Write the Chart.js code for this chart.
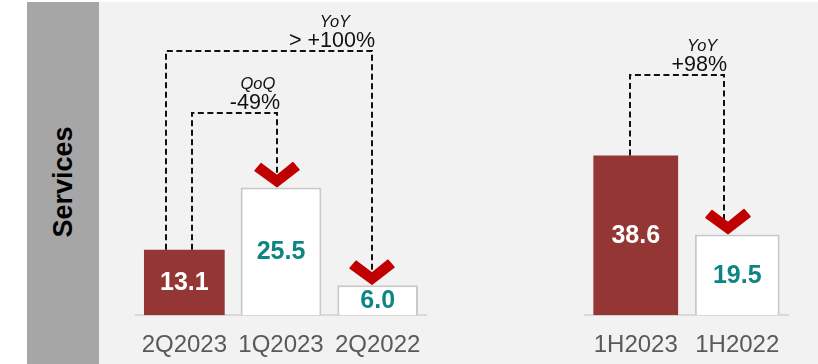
<!DOCTYPE html>
<html>
<head>
<meta charset="utf-8">
<title>Services</title>
<script src="https://cdn.jsdelivr.net/npm/chart.js@4.4.0/dist/chart.umd.min.js"></script>
<style>
    html, body { margin: 0; padding: 0; background: #ffffff; }
    #page { position: relative; width: 818px; height: 364px; overflow: hidden; }
    #panel { position: absolute; left: 99px; top: 2px; width: 719px; height: 362px; background: #f2f2f2; }
    #side { position: absolute; left: 27px; top: 2px; width: 72px; height: 362px; background: #a6a6a6; }
    #side span {
        position: absolute; left: 50%; top: 180px;
        transform: translate(-50%, -50%) rotate(-90deg);
        font: bold 27px "Liberation Sans", Arial, sans-serif; color: #000; white-space: nowrap;
    }
    #graficoTrimestre { position: absolute; left: 99px; top: 0; }
    #graficoSemestre { position: absolute; left: 540px; top: 0; }
</style>
</head>
<body>
<div id="page">
    <div id="side"><span>Services</span></div>
    <div id="panel"></div>
    <canvas id="graficoTrimestre" width="360" height="380"></canvas>
    <canvas id="graficoSemestre" width="278" height="380"></canvas>
</div>

<script>
// quarters
const trimestres = ['2Q2023', '1Q2023', '2Q2022'];
const valoresTrimestre = [13.1, 25.5, 6.0];

// half years
const semestres = ['1H2023', '1H2022'];
const valoresSemestre = [38.6, 19.5];

const FONTE = '"Liberation Sans", Arial, sans-serif';
const VERMELHO = '#943634';
const TEAL = '#0e8585';

// cores: first bar of each group is the current period
const corBarra = (valores) => valores.map((v, i) => i === 0 ? VERMELHO : '#ffffff');
const corBorda = (valores) => valores.map((v, i) => i === 0 ? VERMELHO : '#c9c9c9');
const corTexto = (valores) => valores.map((v, i) => i === 0 ? '#ffffff' : TEAL);

// red check-style arrow pointing down
function desenhaSeta(ctx, cx, ponta) {
    ctx.save();
    ctx.fillStyle = '#c00000';
    ctx.strokeStyle = '#c00000';
    ctx.lineJoin = 'round';
    ctx.lineWidth = 1.5;
    ctx.beginPath();
    ctx.moveTo(cx, ponta);
    ctx.lineTo(cx - 22, ponta - 16);
    ctx.lineTo(cx - 16, ponta - 23);
    ctx.lineTo(cx, ponta - 11);
    ctx.lineTo(cx + 16, ponta - 24);
    ctx.lineTo(cx + 22, ponta - 17);
    ctx.closePath();
    ctx.fill();
    ctx.stroke();
    ctx.restore();
}

// value labels + dashed comparison connectors
const conectores = (ligacoes) => ({
    id: 'conectores',
    afterDatasetsDraw(chart) {
        const ctx = chart.ctx;
        const meta = chart.getDatasetMeta(0);
        const escalaY = chart.scales.y;
        const valores = chart.data.datasets[0].data;
        const cores = corTexto(valores);

        ctx.save();
        ctx.font = `bold 25px ${FONTE}`;
        ctx.textAlign = 'center';
        ctx.textBaseline = 'middle';
        meta.data.forEach((barra, i) => {
            ctx.fillStyle = cores[i];
            ctx.fillText(valores[i].toFixed(1), barra.x, (barra.y + barra.base) / 2 + 1);
        });
        ctx.restore();

        ligacoes.forEach(l => {
            const a = meta.data[l.de];
            const b = meta.data[l.para];
            const x1 = Math.round(a.x + l.dxDe);
            const x2 = Math.round(b.x + l.dxPara);
            const ny = Math.round(escalaY.getPixelForValue(l.nivel));
            const ponta = b.y - 1;

            ctx.save();
            ctx.strokeStyle = '#111111';
            ctx.lineWidth = 2;
            ctx.setLineDash([6, 3.5]);
            ctx.beginPath();
            ctx.moveTo(x1, a.y);
            ctx.lineTo(x1, ny);
            ctx.lineTo(x2, ny);
            ctx.lineTo(x2, ponta - 10);
            ctx.stroke();
            ctx.restore();

            desenhaSeta(ctx, x2 + (l.dxSeta || 0), ponta);

            ctx.save();
            ctx.fillStyle = '#111111';
            ctx.textBaseline = 'alphabetic';
            ctx.font = `21.5px ${FONTE}`;
            ctx.textAlign = 'right';
            const direita = x2 + 3;
            ctx.fillText(l.valor, direita, ny - 4);
            const largura = ctx.measureText(l.valor).width;
            ctx.font = `italic 16.5px ${FONTE}`;
            ctx.textAlign = 'center';
            ctx.fillText(l.rotulo, direita - largura / 2 + 3, ny - 24);
            ctx.restore();
        });
    }
});

function criaGrafico(id, labels, valores, maximo, padding, ligacoes) {
    const ctx = document.getElementById(id).getContext('2d');
    return new Chart(ctx, {
        type: 'bar',
        data: {
            labels: labels,
            datasets: [{
                data: valores,
                backgroundColor: corBarra(valores),
                borderColor: corBorda(valores),
                borderWidth: valores.map((v, i) => i === 0 ? 0 : 2),
                barPercentage: 0.835,
                categoryPercentage: 1
            }]
        },
        options: {
            responsive: false,
            animation: false,
            layout: { padding: padding },
            plugins: {
                legend: { display: false },
                tooltip: { enabled: false }
            },
            scales: {
                x: {
                    grid: { display: false, drawTicks: false },
                    border: { display: true, color: '#d9d9d9', width: 2 },
                    ticks: {
                        color: '#595959',
                        font: { family: FONTE, size: 24 },
                        padding: 16,
                        maxRotation: 0,
                        autoSkip: false
                    }
                },
                y: { display: false, min: 0, max: maximo }
            }
        },
        plugins: [conectores(ligacoes)]
    });
}

criaGrafico('graficoTrimestre', trimestres, valoresTrimestre, 60,
    { left: 37, right: 33, top: 15, bottom: 4 },
    [
        { de: 0, dxDe: -18.5, para: 2, dxPara: -5.5, nivel: 52.8, rotulo: 'YoY', valor: '> +100%' },
        { de: 0, dxDe: 7.5, para: 1, dxPara: -4, nivel: 40.4, rotulo: 'QoQ', valor: '-49%' }
    ]);

criaGrafico('graficoSemestre', semestres, valoresSemestre, 72.6,
    { left: 45, right: 30, top: 15, bottom: 4 },
    [
        { de: 0, dxDe: -5.5, para: 1, dxPara: -13.5, dxSeta: 4, nivel: 58.1, rotulo: 'YoY', valor: '+98%' }
    ]);
</script>
</body>
</html>
